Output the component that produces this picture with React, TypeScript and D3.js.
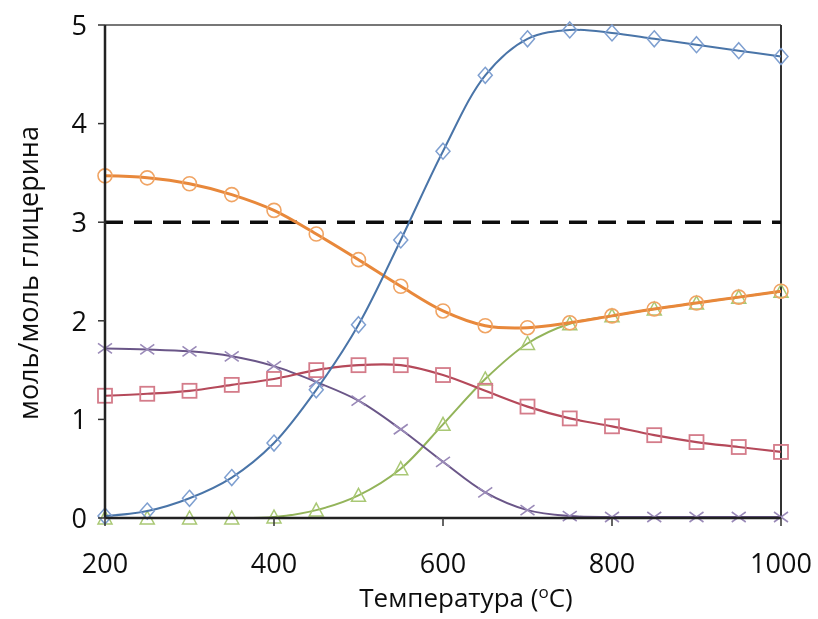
import React from "react";
import * as d3 from "d3";

const temps = [200, 250, 300, 350, 400, 450, 500, 550, 600, 650, 700, 750, 800, 850, 900, 950, 1000];
const h2 = [0.02, 0.07, 0.2, 0.41, 0.76, 1.3, 1.96, 2.82, 3.72, 4.49, 4.86, 4.95, 4.92, 4.86, 4.8, 4.74, 4.68];
const water = [3.47, 3.45, 3.39, 3.28, 3.12, 2.88, 2.62, 2.35, 2.1, 1.95, 1.93, 1.98, 2.05, 2.12, 2.18, 2.24, 2.3];
const co = [1.24, 1.26, 1.29, 1.35, 1.41, 1.5, 1.55, 1.55, 1.45, 1.29, 1.13, 1.01, 0.93, 0.84, 0.77, 0.72, 0.67];
const co2 = [0, 0, 0, 0, 0.01, 0.08, 0.23, 0.5, 0.95, 1.41, 1.77, 1.97, 2.05, 2.12, 2.18, 2.24, 2.3];
const ch4 = [1.72, 1.71, 1.69, 1.64, 1.54, 1.38, 1.19, 0.9, 0.57, 0.26, 0.08, 0.02, 0.01, 0.01, 0.01, 0.01, 0.01];
const xTicks = [200, 400, 600, 800, 1000];
const yTicks = [0, 1, 2, 3, 4, 5];
const refLine = 3;

const W = 818, H = 619;
const L = 105, R = 781, T = 25, B = 518;

type S = { vals: number[]; line: string; mark: string; shape: string; lw: number };
const series: S[] = [
  { vals: co2, line: "#93B45A", mark: "#A9C874", shape: "triangle", lw: 2 },
  { vals: ch4, line: "#6A5688", mark: "#9A8AB8", shape: "x", lw: 2 },
  { vals: co, line: "#B5495A", mark: "#D47C8A", shape: "square", lw: 2.2 },
  { vals: water, line: "#E8883A", mark: "#F0A464", shape: "circle", lw: 3 },
  { vals: h2, line: "#4A74A8", mark: "#7E9FD0", shape: "diamond", lw: 2 },
];

export default function App() {
  const x = d3.scaleLinear().domain([200, 1000]).range([L, R]);
  const y = d3.scaleLinear().domain([0, 5]).range([B, T]);
  const font = "'Open Sans', 'DejaVu Sans', sans-serif";

  const marker = (shape: string, cx: number, cy: number, col: string, k: number) => {
    const s = 7;
    if (shape === "circle") return <circle key={k} cx={cx} cy={cy} r={s} fill="none" stroke={col} strokeWidth={1.6} />;
    if (shape === "square") return <rect key={k} x={cx - s} y={cy - s} width={2 * s} height={2 * s} fill="none" stroke={col} strokeWidth={1.8} />;
    if (shape === "diamond") return <path key={k} d={`M${cx},${cy - s - 1}L${cx + s},${cy}L${cx},${cy + s + 1}L${cx - s},${cy}Z`} fill="none" stroke={col} strokeWidth={1.5} />;
    if (shape === "triangle") return <path key={k} d={`M${cx},${cy - s}L${cx + s},${cy + s - 1}L${cx - s},${cy + s - 1}Z`} fill="none" stroke={col} strokeWidth={1.5} />;
    return <path key={k} d={`M${cx - s},${cy - s + 2}L${cx + s},${cy + s - 2}M${cx - s},${cy + s - 2}L${cx + s},${cy - s + 2}`} fill="none" stroke={col} strokeWidth={1.6} />;
  };

  const lineGen = (vals: number[]) =>
    d3.line<number>().x((_, i) => x(temps[i])).y((v) => y(v)).curve(d3.curveCatmullRom.alpha(0.5))(vals) || "";

  return (
    <svg width={W} height={H} style={{ position: "absolute", left: 0, top: 0, background: "#fff" }}>
      <defs>
        <filter id="soft" x="-5%" y="-5%" width="110%" height="110%">
          <feGaussianBlur stdDeviation="0.6" />
        </filter>
      </defs>
      <g filter="url(#soft)">
        <line x1={L} x2={R} y1={T} y2={T} stroke="#777" strokeWidth={2} />
        <line x1={R} x2={R} y1={T} y2={B} stroke="#333" strokeWidth={2} />
        <line x1={L} x2={R} y1={y(refLine)} y2={y(refLine)} stroke="#111" strokeWidth={3.5} strokeDasharray="18 11" />
        {series.map((s, si) => (
          <g key={si}>
            <path d={lineGen(s.vals)} fill="none" stroke={s.line} strokeWidth={s.lw} />
            {s.vals.map((v, i) => marker(s.shape, x(temps[i]), y(v), s.mark, i))}
          </g>
        ))}
        <line x1={L} x2={L} y1={T} y2={B} stroke="#222" strokeWidth={2.5} />
        <line x1={L} x2={R} y1={B} y2={B} stroke="#222" strokeWidth={2.5} />
        {yTicks.map((t) => (
          <g key={"y" + t}>
            <line x1={L - 7} x2={L} y1={y(t)} y2={y(t)} stroke="#333" strokeWidth={1.5} />
            <text x={L - 18} y={y(t)} dy="0.36em" textAnchor="end" fontFamily={font} fontSize={27} fill="#111">{t}</text>
          </g>
        ))}
        {xTicks.map((t) => (
          <g key={"x" + t}>
            <line x1={x(t)} x2={x(t)} y1={B} y2={B + 8} stroke="#333" strokeWidth={1.5} />
            <text x={x(t)} y={B + 55} textAnchor="middle" fontFamily={font} fontSize={27} fill="#111">{t}</text>
          </g>
        ))}
        <text x={466} y={607} textAnchor="middle" fontFamily={font} fontSize={26} fill="#111">
          Температура (<tspan dy="-9" fontSize={17}>o</tspan><tspan dy="9">C)</tspan>
        </text>
        <text transform={`translate(38,273) rotate(-90)`} textAnchor="middle" fontFamily={font} fontSize={27} fill="#111">моль/моль глицерина</text>
      </g>
    </svg>
  );
}
